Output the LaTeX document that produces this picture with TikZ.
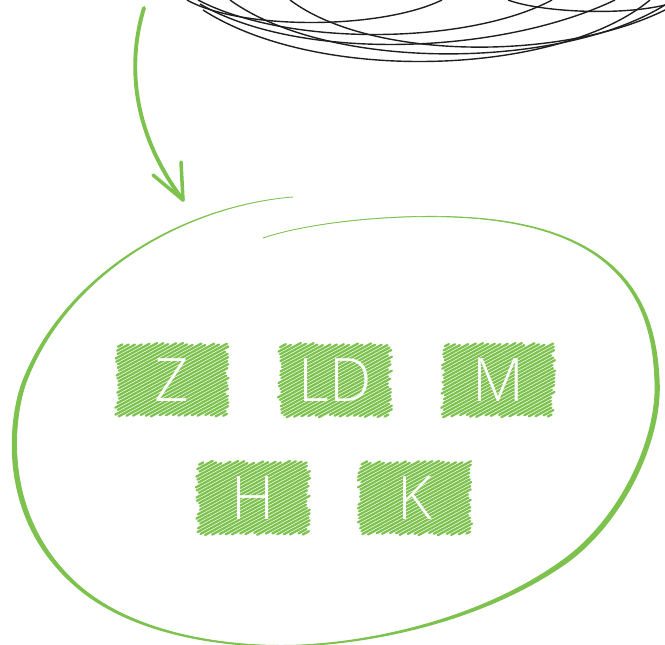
\documentclass[tikz,border=0pt]{standalone}
\usepackage{fontspec}
\setmainfont{Open Sans}
\newfontfamily\letterfont{Open Sans Light}
\definecolor{leaf}{RGB}{125,194,78}
\definecolor{ink}{RGB}{30,30,30}
\tikzset{
  scribble/.style={draw=ink, line width=1.4pt},
  hatchline/.style={leaf, line width=2.3pt, line cap=round},
  lettertext/.style={text=white, font=\letterfont\fontsize{60}{60}\selectfont,
    minimum width=114pt, minimum height=76pt, inner sep=0pt},
  arrowstroke/.style={leaf, line width=3.9pt, line cap=round},
}
% scribbled patch of diagonal strokes centred on (#1,#2), ragged at the edges
\newcommand{\hatchpatch}[2]{%
  \foreach \k in {-66,-62.5,...,66} {
    \pgfmathsetmacro{\xl}{max(-55,(\k-36)/0.5417)+2.2*rand}
    \pgfmathsetmacro{\xr}{min(55,(\k+36)/0.5417)+2.2*rand}
    \ifdim\xr pt>\dimexpr\xl pt+3pt\relax
      \draw[hatchline] (#1+\xl,#2+\k-0.5417*\xl) -- (#1+\xr,#2+\k-0.5417*\xr);
    \fi
  }}
\begin{document}
\begin{tikzpicture}[x=1pt,y=-1pt]
\pgfmathsetseed{11}
\useasboundingbox (0,0) rectangle (665,645);

% tangle of ink loops running off the top edge
\draw[scribble] (187,0) .. controls (240,30) and (380,30) .. (442,0);
\draw[scribble] (198,0) .. controls (290,48) and (470,44) .. (552,0);
\draw[scribble] (200,4) .. controls (300,62) and (500,55) .. (615,0);
\draw[scribble] (203,10) .. controls (320,85) and (560,75) .. (650,0);
\draw[scribble] (230,0) .. controls (330,72) and (560,70) .. (665,5);
\draw[scribble] (290,0) .. controls (370,60) and (560,62) .. (665,10);
\draw[scribble] (508,0) .. controls (540,12) and (620,16) .. (665,5);
\draw[scribble, line width=2pt] (434,-1) -- (476,-1);

% green arrow pointing down into the loop
\coordinate (a0) at (144,8);
\coordinate (tip) at (183,200);
\coordinate (barbL) at (153,175);
\coordinate (barbR) at (181,162);
\draw[arrowstroke] (a0) .. controls (128,60) and (130,130) .. (tip);
\draw[arrowstroke, line width=3.5pt] (barbL) -- (tip);
\draw[arrowstroke, line width=3.5pt] (barbR) -- (tip);

% hand drawn loop: inner edge forward, outer edge back, so the stroke swells and thins
\fill[leaf] (293,197) .. controls (190,205) and (70,270) .. (27,380)
  .. controls (14,413) and (0,510) .. (73,580)
  .. controls (130,635) and (230,648) .. (300,645)
  .. controls (370,642) and (480,620) .. (563,560)
  .. controls (620,519) and (657,440) .. (655,383)
  .. controls (653,326) and (640,230) .. (470,218)
  .. controls (400,213) and (310,222) .. (263,238)
  .. controls (310,221.7) and (400.1,212.5) .. (470.5,217.2)
  .. controls (642,228.65) and (656.9,324.8) .. (659.7,382.3)
  .. controls (662.1,440.1) and (625.1,520.6) .. (567.7,562.7)
  .. controls (482.4,623.2) and (370.3,643.6) .. (299.7,646.4)
  .. controls (229.3,649.5) and (128.1,636.9) .. (69.9,581.8)
  .. controls (-5.9,511.35) and (9.3,412.7) .. (22.95,379.3)
  .. controls (67.7,268.65) and (189.5,204.1) .. (293,197) -- cycle;
\draw[leaf, line width=0.8pt] (293,197) .. controls (190,205) and (70,270) .. (27,380)
  .. controls (14,413) and (0,510) .. (73,580)
  .. controls (130,635) and (230,648) .. (300,645)
  .. controls (370,642) and (480,620) .. (563,560)
  .. controls (620,519) and (657,440) .. (655,383)
  .. controls (653,326) and (640,230) .. (470,218)
  .. controls (400,213) and (310,222) .. (263,238);

% hatched letter boxes
\hatchpatch{172}{380}
\hatchpatch{335}{380}
\hatchpatch{498}{380}
\hatchpatch{253}{498}
\hatchpatch{415}{498}
\node[lettertext] (z)  at (172,380) {Z};
\node[lettertext] (ld) at (335,380) {LD};
\node[lettertext] (m)  at (498,380) {M};
\node[lettertext] (h)  at (253,498) {H};
\node[lettertext] (k)  at (415,498) {K};
\end{tikzpicture}
\end{document}
